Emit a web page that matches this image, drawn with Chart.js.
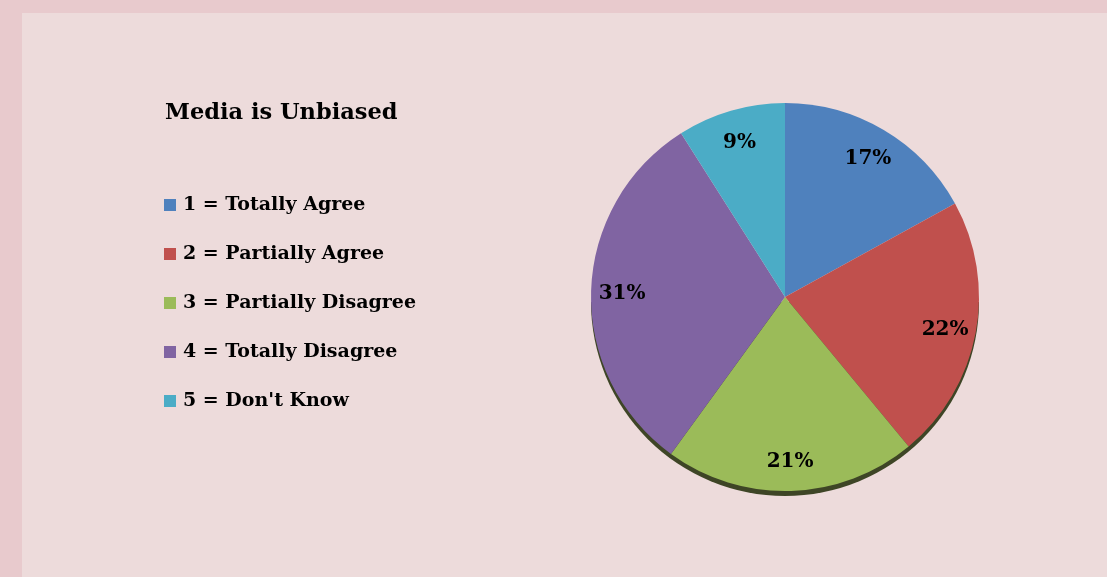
<!DOCTYPE html>
<html><head><meta charset="utf-8">
<script src="https://cdn.jsdelivr.net/npm/chart.js@4.4.1/dist/chart.umd.min.js"></script>
<style>
html,body{margin:0;padding:0;background:#E8CACD;width:1107px;height:577px;overflow:hidden;}
#panel{position:absolute;left:22px;top:13px;right:0;bottom:0;background:#EDDBDB;}
#wrap{position:absolute;left:0;top:0;width:1107px;height:577px;}
</style></head>
<body>
<div id="panel"></div>
<div id="wrap"><canvas id="c" width="1107" height="577"></canvas></div>
<script>
const chartTitle = "Media is Unbiased";
const categories = ["1 = Totally Agree","2 = Partially Agree","3 = Partially Disagree","4 = Totally Disagree","5 = Don't Know"];
const values = [17, 22, 21, 31, 9];
const colors = ["#4F81BD","#C0504D","#9BBB59","#8064A2","#4BACC6"];
const FONT = "'DejaVu Serif', serif";

const overlay = {
  id:'overlay',
  beforeDatasetsDraw(chart){
    const ctx = chart.ctx;
    const arc = chart.getDatasetMeta(0).data[0];
    if(!arc) return;
    const p = arc.getProps(['x','y','outerRadius'], true);
    ctx.save();
    ctx.beginPath();
    ctx.arc(p.x, p.y+5, p.outerRadius, 0, Math.PI);
    ctx.fillStyle = '#3E4526';
    ctx.fill();
    ctx.restore();
  },
  afterDraw(chart){
    const ctx = chart.ctx;
    ctx.save();
    ctx.fillStyle = '#000';
    ctx.textBaseline = 'middle';
    ctx.textAlign = 'left';
    ctx.font = "bold 22.5px " + FONT;
    ctx.fillText(chartTitle, 165, 113);
    ctx.font = "bold 19px " + FONT;
    chart.data.labels.forEach((lab,i)=>{
      const y = 205 + i*49;
      ctx.fillStyle = chart.data.datasets[0].backgroundColor[i];
      ctx.fillRect(164, y-6, 12, 12);
      ctx.fillStyle = '#000';
      ctx.fillText(lab, 183, y);
    });
    const meta = chart.getDatasetMeta(0);
    ctx.font = "bold 20px " + FONT;
    ctx.textAlign = 'center';
    meta.data.forEach((a,i)=>{
      const q = a.getProps(['x','y','startAngle','endAngle','outerRadius'], true);
      const mid = (q.startAngle + q.endAngle)/2;
      const r = q.outerRadius*0.84;
      ctx.fillText(values[i] + '%', q.x + Math.cos(mid)*r, q.y + Math.sin(mid)*r + 2);
    });
    ctx.restore();
  }
};

new Chart(document.getElementById('c'), {
  type:'pie',
  data:{ labels: categories, datasets:[{ data: values, backgroundColor: colors, borderWidth:0 }] },
  options:{
    responsive:false, animation:false,
    layout:{ padding:{ left:591, right:128, top:103, bottom:86 } },
    plugins:{ legend:{display:false}, tooltip:{enabled:false}, title:{display:false} }
  },
  plugins:[overlay]
});
</script>
</body></html>
